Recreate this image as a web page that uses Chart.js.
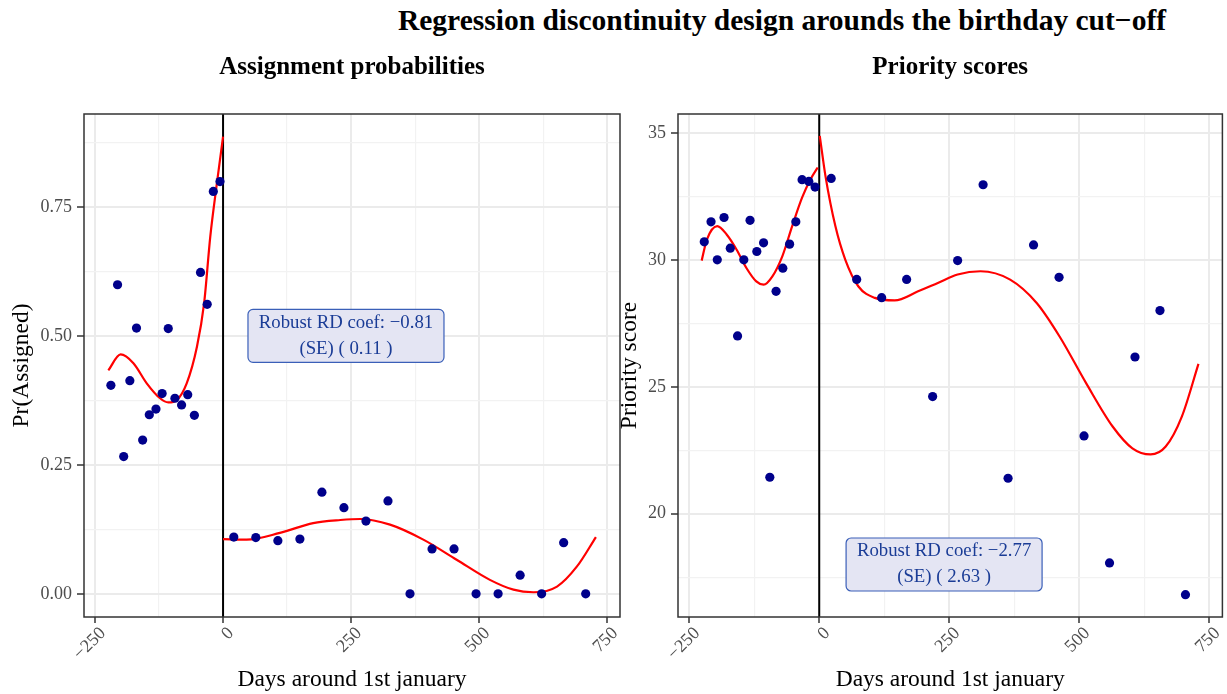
<!DOCTYPE html>
<html>
<head>
<meta charset="utf-8">
<script src="https://cdn.jsdelivr.net/npm/chart.js@4.4.1/dist/chart.umd.min.js"></script>
<style>
  body { margin: 0; background: #fff; }
  #wrap { position: relative; width: 1227px; height: 694px; overflow: hidden; }
  #mainTitle { position: absolute; left: 382px; top: 3px; width: 800px; text-align: center;
    font: bold 29.5px 'Liberation Serif', serif; line-height: 34px; color: #000; }
  canvas { position: absolute; top: 0; }
</style>
</head>
<body>
<div id="wrap">
  <div id="mainTitle">Regression discontinuity design arounds the birthday cut&#8722;off</div>
  <canvas id="assignChart" width="625" height="694" style="left:0px"></canvas>
  <canvas id="priorityChart" width="611" height="694" style="left:616px"></canvas>
</div>
<script>
// ---- data ----
// assignment probabilities, binned means
const assignBelowDays = [-219, -206, -194, -182, -169, -157, -144, -131, -119, -107, -94, -81, -69, -56, -44, -31, -19, -6];
const assignBelowProb = [0.404, 0.599, 0.266, 0.413, 0.515, 0.298, 0.347, 0.358, 0.388, 0.514, 0.379, 0.366, 0.386, 0.346, 0.623, 0.561, 0.780, 0.799];
const assignAboveDays = [21, 64, 107, 150, 193, 236, 279, 322, 365, 408, 451, 494, 537, 580, 622, 665, 708];
const assignAboveProb = [0.110, 0.109, 0.103, 0.106, 0.197, 0.167, 0.141, 0.180, 0, 0.087, 0.087, 0, 0, 0.036, 0, 0.099, 0];
// fitted polynomial (red), left and right of cut-off
const assignFitBelowDays = [-224, -200, -175, -149, -123, -107, -90, -71, -51, -37, -25, -12, 0];
const assignFitBelowProb = [0.433, 0.464, 0.447, 0.408, 0.379, 0.371, 0.376, 0.408, 0.479, 0.563, 0.692, 0.796, 0.886];
const assignFitAboveDays = [0, 46, 111, 176, 229, 268, 326, 391, 456, 521, 567, 606, 652, 691, 728];
const assignFitAboveProb = [0.106, 0.105, 0.118, 0.137, 0.143, 0.145, 0.134, 0.105, 0.066, 0.027, 0.008, 0.003, 0.014, 0.053, 0.110];
const assignCoefText = ['Robust RD coef: \u22120.81', '(SE) ( 0.11 )'];

// priority scores, binned means
const prioBelowDays = [-221, -208, -196, -183, -171, -157, -145, -133, -120, -107, -95, -83, -70, -57, -45, -33, -20, -8];
const prioBelowScore = [30.72, 31.51, 30.01, 31.68, 30.47, 27.01, 30.01, 31.57, 30.34, 30.68, 21.44, 28.77, 29.68, 30.63, 31.51, 33.17, 33.10, 32.88];
const prioAboveDays = [23, 72, 120, 168, 218, 266, 315, 363, 412, 461, 509, 558, 607, 655, 704];
const prioAboveScore = [33.22, 29.24, 28.52, 29.24, 24.62, 29.98, 32.97, 21.40, 30.60, 29.32, 23.07, 18.06, 26.18, 28.01, 16.81];
const prioFitBelowDays = [-226, -216, -196, -178, -159, -140, -121, -107, -90, -71, -52, -33, -17, -3];
const prioFitBelowScore = [29.98, 30.81, 31.34, 31.01, 30.42, 29.69, 29.16, 29.03, 29.36, 30.15, 31.34, 32.46, 33.18, 33.65];
const prioFitAboveDays = [1, 12, 31, 50, 75, 107, 145, 190, 228, 266, 310, 367, 418, 462, 513, 564, 602, 637, 666, 697, 729];
const prioFitAboveScore = [34.9, 33.31, 31.34, 30.02, 28.97, 28.51, 28.41, 28.77, 29.10, 29.43, 29.56, 29.23, 28.31, 26.99, 25.15, 23.44, 22.58, 22.34, 22.65, 23.83, 25.91];
const prioCoefText = ['Robust RD coef: \u22122.77', '(SE) ( 2.63 )'];

// ticks / gridlines (majors get a label)
const dayGrid = [-250, -125, 0, 125, 250, 375, 500, 625, 750];
const dayLabels = [-250, 0, 250, 500, 750];
const probGrid = [0, 0.125, 0.25, 0.375, 0.5, 0.625, 0.75, 0.875];
const probLabels = [0, 0.25, 0.5, 0.75];
const scoreGrid = [17.5, 20, 22.5, 25, 27.5, 30, 32.5, 35];
const scoreLabels = [20, 25, 30, 35];

const FONT = 'Liberation Serif';
const pts = (xs, ys) => xs.map((x, i) => ({x: x, y: ys[i]}));
const minus = s => String(s).replace('-', '\u2212');

// cut-off line, text box and panel border
const panelDecor = {
    id: 'panelDecor',
    beforeDatasetsDraw(chart) {
        const {ctx, chartArea: a, scales: {x}} = chart;
        const px = x.getPixelForValue(0);
        ctx.save();
        ctx.strokeStyle = '#000';
        ctx.lineWidth = 2;
        ctx.beginPath();
        ctx.moveTo(px, a.top);
        ctx.lineTo(px, a.bottom);
        ctx.stroke();
        ctx.restore();
    },
    afterDatasetsDraw(chart, args, opts) {
        const {ctx, scales: {x, y}} = chart;
        const cx = x.getPixelForValue(opts.at[0]);
        const cy = y.getPixelForValue(opts.at[1]);
        const w = 196, h = 53;
        ctx.save();
        ctx.beginPath();
        ctx.roundRect(cx - w / 2, cy - h / 2, w, h, 5);
        ctx.fillStyle = '#e4e5f3';
        ctx.fill();
        ctx.strokeStyle = '#3a5fb8';
        ctx.lineWidth = 1.2;
        ctx.stroke();
        ctx.fillStyle = '#1a3c96';
        ctx.font = '18.8px "' + FONT + '"';
        ctx.textAlign = 'center';
        ctx.textBaseline = 'middle';
        ctx.fillText(opts.lines[0], cx, cy - 13);
        ctx.fillText(opts.lines[1], cx, cy + 13);
        ctx.restore();
    },
    afterDraw(chart) {
        const {ctx, chartArea: a} = chart;
        ctx.save();
        ctx.strokeStyle = '#333';
        ctx.lineWidth = 1.5;
        ctx.strokeRect(a.left, a.top, a.right - a.left, a.bottom - a.top);
        ctx.restore();
    }
};

function makePanel(id, cfg) {
    const isMajorX = v => dayLabels.includes(v);
    const isMajorY = v => cfg.yLabels.includes(v);
    return new Chart(document.getElementById(id), {
        type: 'scatter',
        data: {
            datasets: [
                {data: pts(cfg.bx, cfg.by), backgroundColor: '#00008b', borderWidth: 0, pointRadius: 4.6},
                {data: pts(cfg.ax, cfg.ay), backgroundColor: '#00008b', borderWidth: 0, pointRadius: 4.6},
                {type: 'line', data: pts(cfg.fbx, cfg.fby), borderColor: '#ff0000', borderWidth: 2.2,
                    pointRadius: 0, cubicInterpolationMode: 'monotone', fill: false},
                {type: 'line', data: pts(cfg.fax, cfg.fay), borderColor: '#ff0000', borderWidth: 2.2,
                    pointRadius: 0, cubicInterpolationMode: 'monotone', fill: false}
            ]
        },
        options: {
            responsive: false,
            animation: false,
            devicePixelRatio: 1,
            layout: {padding: {left: 0, right: cfg.padRight, top: 0, bottom: 0}},
            plugins: {
                legend: {display: false},
                tooltip: {enabled: false},
                title: {
                    display: true,
                    text: cfg.title,
                    fullSize: false,
                    color: '#000',
                    font: {family: FONT, size: 25, weight: 'bold'},
                    padding: {top: 53, bottom: 31}
                },
                panelDecor: {at: cfg.boxAt, lines: cfg.boxText}
            },
            scales: {
                x: {
                    type: 'linear',
                    min: -271.5,
                    max: 775,
                    afterBuildTicks: s => { s.ticks = dayGrid.map(v => ({value: v})); },
                    afterFit: s => { s.height = 77; s.paddingLeft = 0; s.paddingRight = 0; },
                    border: {display: false},
                    grid: {
                        color: c => isMajorX(c.tick.value) ? '#ebebeb' : '#f2f2f2',
                        lineWidth: c => isMajorX(c.tick.value) ? 2 : 1.2,
                        tickColor: c => isMajorX(c.tick.value) ? '#333' : 'rgba(0,0,0,0)',
                        tickWidth: 1.5,
                        tickLength: 6
                    },
                    ticks: {
                        autoSkip: false,
                        minRotation: 45,
                        maxRotation: 45,
                        padding: 0,
                        labelOffset: 8,
                        color: '#4d4d4d',
                        font: {family: FONT, size: 18},
                        callback: v => isMajorX(v) ? minus(v) : ''
                    },
                    title: {
                        display: true,
                        text: 'Days around 1st january',
                        color: '#000',
                        font: {family: FONT, size: 23.5},
                        padding: {top: 0, bottom: 0}
                    }
                },
                y: {
                    type: 'linear',
                    min: cfg.ymin,
                    max: cfg.ymax,
                    afterBuildTicks: s => { s.ticks = cfg.yGrid.map(v => ({value: v})); },
                    afterFit: s => { s.width = cfg.yWidth; s.paddingTop = 0; s.paddingBottom = 0; },
                    border: {display: false},
                    grid: {
                        color: c => isMajorY(c.tick.value) ? '#ebebeb' : '#f2f2f2',
                        lineWidth: c => isMajorY(c.tick.value) ? 2 : 1.2,
                        tickColor: c => isMajorY(c.tick.value) ? '#333' : 'rgba(0,0,0,0)',
                        tickWidth: 1.5,
                        tickLength: 7
                    },
                    ticks: {
                        autoSkip: false,
                        padding: 5,
                        color: '#4d4d4d',
                        font: {family: FONT, size: 18},
                        callback: v => isMajorY(v) ? cfg.fmt(v) : ''
                    },
                    title: {
                        display: true,
                        text: cfg.yTitle,
                        color: '#000',
                        font: {family: FONT, size: 23.5},
                        padding: {top: cfg.yTitlePad, bottom: 0}
                    }
                }
            }
        },
        plugins: [panelDecor]
    });
}

const assignChart = makePanel('assignChart', {
    title: 'Assignment probabilities',
    bx: assignBelowDays, by: assignBelowProb, ax: assignAboveDays, ay: assignAboveProb,
    fbx: assignFitBelowDays, fby: assignFitBelowProb, fax: assignFitAboveDays, fay: assignFitAboveProb,
    ymin: -0.045, ymax: 0.93, yGrid: probGrid, yLabels: probLabels, fmt: v => v.toFixed(2),
    yTitle: 'Pr(Assigned)', yWidth: 84, yTitlePad: 8, padRight: 5,
    boxAt: [240, 0.5], boxText: assignCoefText
});

const priorityChart = makePanel('priorityChart', {
    title: 'Priority scores',
    bx: prioBelowDays, by: prioBelowScore, ax: prioAboveDays, ay: prioAboveScore,
    fbx: prioFitBelowDays, fby: prioFitBelowScore, fax: prioFitAboveDays, fay: prioFitAboveScore,
    ymin: 15.93, ymax: 35.76, yGrid: scoreGrid, yLabels: scoreLabels, fmt: v => String(v),
    yTitle: 'Priority score', yWidth: 62, yTitlePad: 0, padRight: 0,
    boxAt: [240, 18], boxText: prioCoefText
});
</script>
</body>
</html>
